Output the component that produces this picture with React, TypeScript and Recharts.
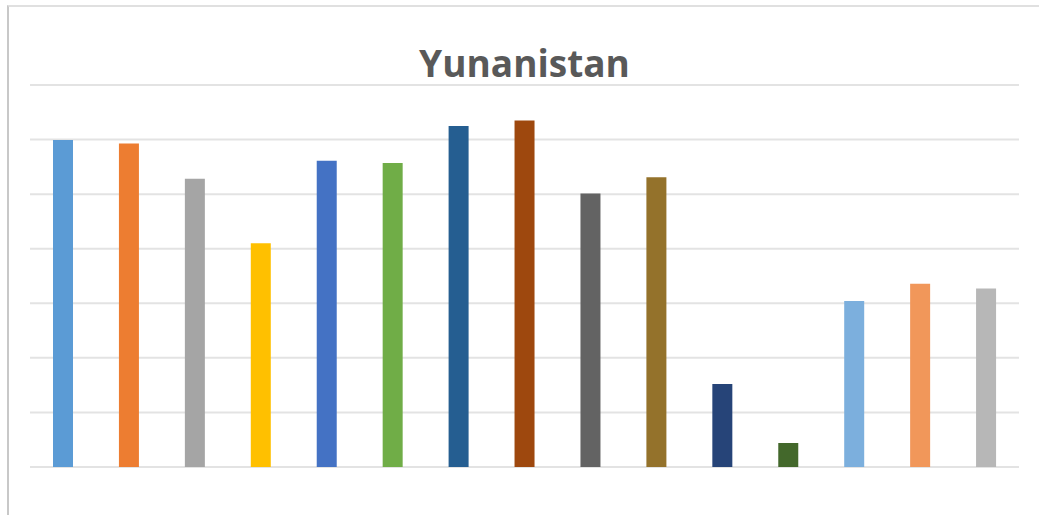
import React from "react";
import { BarChart, Bar, XAxis, YAxis, CartesianGrid, Cell } from "recharts";

const categories = ["K1", "K2", "K3", "K4", "K5", "K6", "K7", "K8", "K9", "K10", "K11", "K12", "K13", "K14", "K15"];
const values = [5.99, 5.93, 5.28, 4.1, 5.61, 5.57, 6.25, 6.35, 5.01, 5.31, 1.52, 0.44, 3.04, 3.36, 3.27];
const yTicks = [0, 1, 2, 3, 4, 5, 6, 7];
const title = "Yunanistan";

const palette = [
  "#5B9BD5", "#ED7D31", "#A5A5A5", "#FFC000", "#4472C4",
  "#70AD47", "#255E91", "#9E480E", "#636363", "#94722B",
  "#264478", "#43682B", "#7CAFDD", "#F1975A", "#B7B7B7",
];

const data = categories.map((c, i) => ({ name: c, value: values[i] }));

export default function App() {
  return (
    <div style={{ position: "absolute", left: 0, top: 0, width: 1039, height: 515, background: "#fff" }}>
      <div
        style={{
          position: "absolute",
          left: 7,
          top: 5,
          width: 1032,
          height: 510,
          borderLeft: "2px solid #c8c8c8",
          borderTop: "2px solid #e0e0e0",
          boxSizing: "border-box",
        }}
      />
      <BarChart
        width={1039}
        height={515}
        data={data}
        margin={{ top: 85, right: 20, bottom: 48, left: 30 }}
        barCategoryGap={0}
        style={{ position: "absolute", left: 0, top: 0 }}
      >
        <CartesianGrid vertical={false} stroke="#e3e3e3" strokeWidth={2} />
        <XAxis dataKey="name" hide />
        <YAxis hide domain={[0, 7]} ticks={yTicks} />
        <Bar dataKey="value" barSize={20} isAnimationActive={false}>
          {data.map((d, i) => (
            <Cell key={d.name} fill={palette[i]} />
          ))}
        </Bar>
      </BarChart>
      <svg width={1039} height={515} style={{ position: "absolute", left: 0, top: 0, pointerEvents: "none" }}>
        <text
          x={524.5}
          y={77}
          textAnchor="middle"
          fontFamily="'Open Sans', sans-serif"
          fontWeight={700}
          fontSize={37}
          fill="#595959"
        >
          {title}
        </text>
      </svg>
    </div>
  );
}
